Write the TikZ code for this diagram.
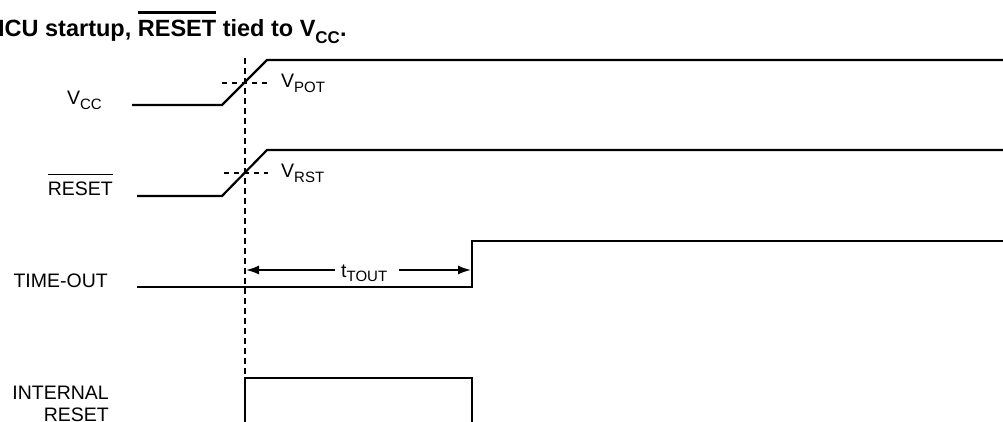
\documentclass[tikz,border=0pt]{standalone}
\usepackage{fontspec}
\setmainfont{Liberation Sans}
\usetikzlibrary{arrows.meta}
\newcommand\ovl[3]{\leavevmode\vbox{\hrule height #1\kern #2\hbox{#3}}}
\newcommand\sbs[3]{\raisebox{-#1}{\fontsize{#2}{#2}\selectfont #3}}
\begin{document}
\begin{tikzpicture}[x=1pt,y=-1pt,
  lbl/.style={inner sep=0pt, font=\fontsize{19.5}{22}\selectfont},
  sig/.style={line width=2.2pt, line join=miter},
  guide/.style={line width=2pt, dash pattern=on 6pt off 4pt},
  lvl/.style={line width=1.5pt, dash pattern=on 5pt off 5pt},
  dim/.style={line width=1.7pt, -{Latex[length=13pt,width=9pt]}}]
\clip (0,0) rectangle (1003,422);
\fill[white] (0,0) rectangle (1003,422);
% title
\node[inner sep=0pt, anchor=base west, font=\bfseries\fontsize{23.5}{26}\selectfont] (title) at (-2,37)
  {ICU startup, \ovl{2.2pt}{7pt}{RESET} tied to V\sbs{7pt}{17}{CC}.};
% labels
\node[lbl, anchor=base east] (vcc) at (102,105) {V\sbs{5pt}{15}{CC}};
\node[lbl, anchor=base east] (rst) at (113,195) {\ovl{1.5pt}{6pt}{RESET}};
\node[lbl, anchor=base east] (tout) at (108,287) {TIME-OUT};
\node[lbl, anchor=base east] (ir1) at (109,399) {INTERNAL};
\node[lbl, anchor=base east] (ir2) at (109,421) {RESET};
\node[lbl, anchor=base west] (vpot) at (281,88) {V\sbs{5pt}{15}{POT}};
\node[lbl, anchor=base west] (vrst) at (281,178) {V\sbs{5pt}{15}{RST}};
\node[lbl, anchor=base west] (tt) at (341,277) {t\sbs{4pt}{15}{TOUT}};
% waveforms
\draw[sig] (132,105) -- (222,105) -- (267,60) -- (1010,60);
\draw[sig] (137,196) -- (222,196) -- (267,150) -- (1010,150);
\draw[sig] (137,287) -- (472,287) -- (472,241) -- (1010,241);
\draw[sig, line width=1.8pt] (245,430) -- (245,378) -- (472,378) -- (472,430);
% guides
\draw[guide] (245,58) -- (245,378);
\draw[lvl] (222,83) -- (268,83);
\draw[lvl] (224,173) -- (268,173);
% time-out dimension
\coordinate (aL) at (246,270);
\coordinate (aR) at (471,270);
\draw[dim] ([xshift=-6pt]tt.west |- aL) -- (aL);
\draw[dim] ([xshift=12pt]tt.east |- aR) -- (aR);
\end{tikzpicture}
\end{document}
